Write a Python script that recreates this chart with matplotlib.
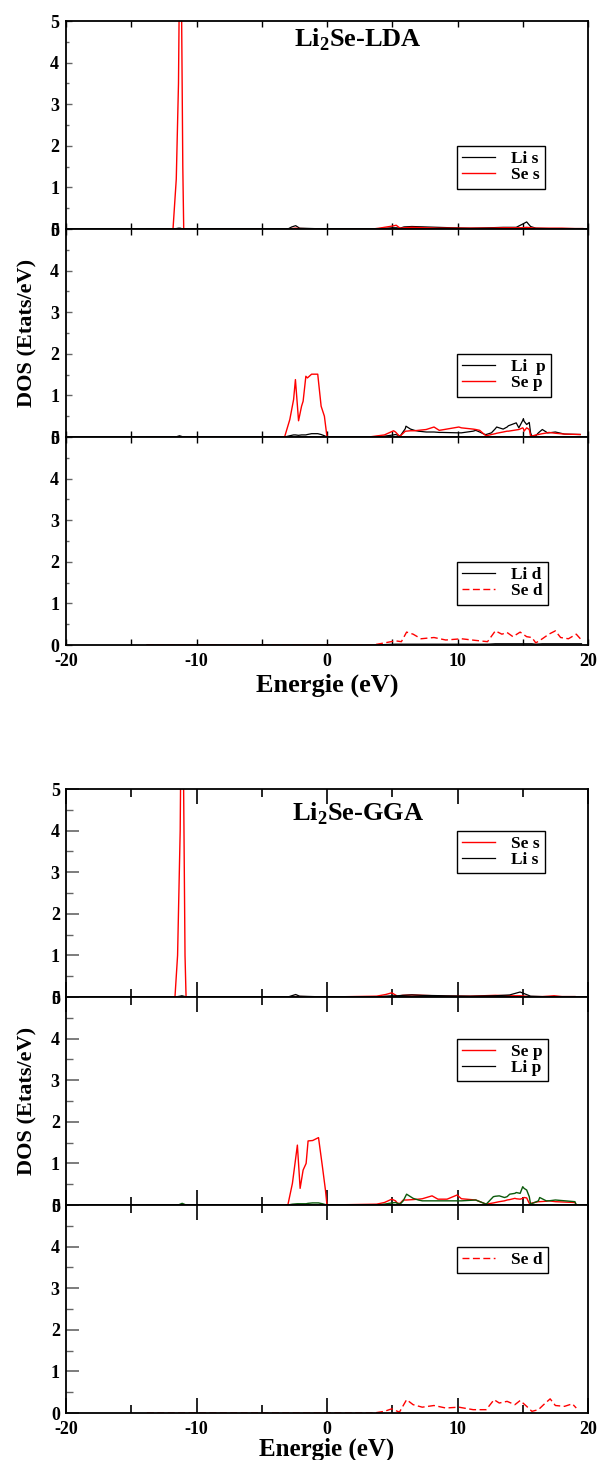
import matplotlib
matplotlib.use("Agg")
import matplotlib.pyplot as plt
from matplotlib.ticker import MultipleLocator

plt.rcParams['font.family'] = ['Liberation Serif', 'DejaVu Serif']
plt.rcParams['font.weight'] = 'bold'
plt.rcParams['mathtext.fontset'] = 'custom'
plt.rcParams['mathtext.rm'] = 'Liberation Serif:bold'

# ---------------- LDA ----------------
lda_s_e = [-13.8, -12.0, -11.8, -11.55, -11.38, -11.25, -11.15, -11.05, -10.98, -10.5, -3.0, -2.7, -2.4, -2.1,
           0.0, 3.5, 4.0, 4.6, 5.0, 5.3, 5.6, 5.9, 6.5, 7.5, 8.5, 9.5, 11.0, 12.5, 13.5, 14.5, 15.0, 15.3,
           15.6, 16.0, 17.0, 18.0, 19.0, 19.6]
lda_li_s = [0.0, 0.0, 0.0, 0.01, 0.02, 0.02, 0.01, 0.0, 0.0, 0.0, 0.0, 0.05, 0.08, 0.02,
            0.0, 0.0, 0.01, 0.02, 0.03, 0.03, 0.02, 0.05, 0.06, 0.05, 0.04, 0.03, 0.02, 0.03, 0.04, 0.04, 0.12, 0.17,
            0.06, 0.02, 0.01, 0.01, 0.01, 0.01]
lda_se_s = [0.0, 0.0, 0.0, 1.2, 3.5, 8.0, 5.5, 1.5, 0.0, 0.0, 0.0, 0.01, 0.02, 0.01,
            0.0, 0.0, 0.02, 0.05, 0.07, 0.09, 0.02, 0.03, 0.04, 0.03, 0.02, 0.02, 0.02, 0.02, 0.03, 0.03, 0.03, 0.04,
            0.03, 0.02, 0.02, 0.02, 0.01, 0.01]

lda_p_e = [-13.8, -11.6, -11.3, -11.0, -3.25, -2.85, -2.56, -2.42, -2.18, -1.95, -1.83, -1.62, -1.5, -1.18,
           -0.71, -0.45, -0.2, 0.0, 3.2, 4.4, 5.1, 5.25, 5.55, 5.6, 6.0, 6.05, 6.4, 6.7, 7.0, 7.6, 8.2, 8.6,
           8.8, 10.1, 10.3, 11.2, 11.4, 11.7, 12.1, 12.2, 12.6, 12.9, 13.0, 13.5, 13.8, 13.9, 14.5, 14.7, 15.0,
           15.05, 15.1, 15.3, 15.5, 15.6, 15.7, 16.0, 16.2, 16.5, 16.9, 17.0, 17.5, 18.2, 19.4]
lda_li_p = [0.0, 0.0, 0.03, 0.0, 0.0, 0.03, 0.05, 0.05, 0.04, 0.05, 0.05, 0.05, 0.06, 0.08,
            0.08, 0.06, 0.03, 0.0, 0.0, 0.02, 0.05, 0.06, 0.03, 0.02, 0.2, 0.26, 0.19, 0.16, 0.14, 0.12, 0.12, 0.11,
            0.11, 0.1, 0.1, 0.14, 0.16, 0.12, 0.06, 0.06, 0.1, 0.2, 0.24, 0.19, 0.24, 0.27, 0.34, 0.22, 0.4,
            0.44, 0.38, 0.3, 0.35, 0.1, 0.02, 0.03, 0.1, 0.18, 0.1, 0.1, 0.12, 0.07, 0.06]
lda_se_p = [0.0, 0.0, 0.0, 0.0, 0.0, 0.42, 0.9, 1.38, 0.39, 0.74, 0.86, 1.46, 1.42, 1.51,
            1.51, 0.74, 0.5, 0.0, 0.0, 0.05, 0.15, 0.12, 0.02, 0.02, 0.14, 0.14, 0.15, 0.15, 0.16, 0.18, 0.24, 0.16,
            0.17, 0.24, 0.22, 0.19, 0.18, 0.16, 0.05, 0.03, 0.06, 0.08, 0.09, 0.12, 0.14, 0.14, 0.17, 0.18, 0.22,
            0.2, 0.14, 0.22, 0.18, 0.02, 0.02, 0.05, 0.06, 0.08, 0.1, 0.11, 0.09, 0.07, 0.06]

lda_d_e = [-13.8, 3.5, 4.4, 5.25, 5.7, 6.1, 6.6, 7.2, 8.2, 9.1, 10.3, 11.4, 12.3, 12.9, 13.4, 13.8, 14.25,
           14.8, 15.3, 15.7, 16.0, 16.5, 17.0, 17.5, 17.9, 18.5, 19.1, 19.5]
lda_li_d = [0.0, 0.0, 0.01, 0.02, 0.02, 0.02, 0.02, 0.02, 0.02, 0.02, 0.02, 0.02, 0.02, 0.03, 0.03, 0.03, 0.03,
            0.03, 0.03, 0.03, 0.02, 0.03, 0.03, 0.03, 0.03, 0.03, 0.03, 0.03]
lda_se_d = [0.0, 0.0, 0.05, 0.1, 0.08, 0.31, 0.26, 0.15, 0.18, 0.12, 0.15, 0.11, 0.08, 0.34, 0.26, 0.3, 0.2,
            0.31, 0.2, 0.18, 0.05, 0.15, 0.26, 0.34, 0.18, 0.15, 0.26, 0.12]

# ---------------- GGA ----------------
gga_s_e = [-13.8, -12.0, -11.65, -11.45, -11.25, -11.12, -11.0, -10.88, -10.8, -10.5, -3.0, -2.7, -2.4, -2.1,
           0.0, 3.8, 4.5, 4.96, 5.4, 5.8, 6.5, 7.3, 9.0, 11.0, 12.9, 14.0, 14.8, 15.2, 15.6, 16.5, 17.0, 17.4,
           18.0, 19.0]
gga_se_s = [0.0, 0.0, 0.0, 1.0, 4.0, 9.0, 5.5, 1.0, 0.0, 0.0, 0.0, 0.01, 0.01, 0.01,
            0.0, 0.02, 0.06, 0.1, 0.02, 0.04, 0.05, 0.04, 0.02, 0.02, 0.04, 0.03, 0.03, 0.02, 0.01, 0.01, 0.02, 0.03,
            0.01, 0.01]
gga_li_s = [0.0, 0.0, 0.0, 0.01, 0.02, 0.03, 0.02, 0.01, 0.0, 0.0, 0.0, 0.03, 0.06, 0.02,
            0.0, 0.0, 0.02, 0.03, 0.03, 0.04, 0.05, 0.04, 0.03, 0.02, 0.03, 0.05, 0.12, 0.07, 0.02, 0.01, 0.01, 0.01,
            0.01, 0.01]

gga_p_e = [-13.8, -11.4, -11.1, -10.8, -3.0, -2.65, -2.27, -2.06, -1.83, -1.6, -1.45, -1.1, -0.65, -0.35,
           -0.12, 0.0, 3.8, 4.4, 4.96, 5.25, 5.4, 5.6, 5.84, 6.1, 6.6, 7.0, 7.3, 8.05, 8.5, 9.2, 9.97, 10.3, 11.4,
           12.2, 12.75, 12.9, 13.2, 13.6, 13.8, 14.0, 14.4, 14.5, 14.8, 15.0, 15.1, 15.3, 15.5, 15.6, 16.2, 16.3,
           16.8, 17.0, 17.5, 19.0, 19.1]
gga_se_p = [0.0, 0.0, 0.0, 0.0, 0.0, 0.52, 1.44, 0.4, 0.84, 1.0, 1.54, 1.55, 1.62, 0.92,
            0.36, 0.0, 0.02, 0.06, 0.14, 0.1, 0.04, 0.04, 0.12, 0.12, 0.13, 0.14, 0.15, 0.22, 0.14, 0.14, 0.24, 0.15,
            0.12, 0.02, 0.05, 0.06, 0.08, 0.1, 0.12, 0.13, 0.16, 0.15, 0.14, 0.16, 0.18, 0.17, 0.04, 0.04, 0.08,
            0.08, 0.09, 0.1, 0.08, 0.06, 0.0]
gga_li_p = [0.0, 0.0, 0.04, 0.0, 0.0, 0.02, 0.03, 0.03, 0.03, 0.03, 0.04, 0.05, 0.05, 0.03,
            0.01, 0.0, 0.0, 0.02, 0.05, 0.06, 0.04, 0.02, 0.1, 0.26, 0.16, 0.12, 0.1, 0.1, 0.1, 0.1, 0.1, 0.1, 0.12,
            0.02, 0.2, 0.21, 0.22, 0.18, 0.2, 0.26, 0.28, 0.3, 0.28, 0.44, 0.4, 0.36, 0.2, 0.02, 0.1, 0.18,
            0.1, 0.1, 0.12, 0.08, 0.0]

gga_d_e = [-13.8, 3.6, 4.4, 4.96, 5.55, 6.1, 6.6, 7.3, 8.2, 9.1, 10.1, 11.2, 12.2, 12.8, 13.2, 13.8, 14.4,
           14.8, 15.3, 15.7, 16.2, 16.6, 17.1, 17.5, 18.2, 18.8, 19.1]
gga_se_d = [0.0, 0.0, 0.04, 0.1, 0.02, 0.32, 0.2, 0.14, 0.18, 0.12, 0.14, 0.08, 0.08, 0.32, 0.24, 0.28, 0.2,
            0.3, 0.16, 0.04, 0.08, 0.2, 0.34, 0.18, 0.16, 0.22, 0.12]

FIG_W, FIG_H = 602, 1460
AX_L, AX_R = 66, 588
PANEL_H = 208
RED = '#ff0000'
GREEN = '#0b5a0b'


def add_panel(fig, top):
    ax = fig.add_axes([AX_L / FIG_W, 1 - (top + PANEL_H) / FIG_H,
                       (AX_R - AX_L) / FIG_W, PANEL_H / FIG_H])
    ax.set_xlim(-20, 20)
    ax.set_ylim(0, 5)
    ax.xaxis.set_major_locator(MultipleLocator(10))
    ax.xaxis.set_minor_locator(MultipleLocator(5))
    ax.yaxis.set_major_locator(MultipleLocator(1))
    ax.yaxis.set_minor_locator(MultipleLocator(0.5))
    for s in ax.spines.values():
        s.set_linewidth(1.3)
    return ax


def style_ticks(ax, big, show_x):
    fs = 13
    if big:
        ax.tick_params(axis='x', which='major', direction='in', length=11, width=1.2,
                       top=True, bottom=True, labelsize=fs, pad=5.5)
        ax.tick_params(axis='x', which='minor', direction='in', length=6, width=1.2, top=True, bottom=True)
        ax.tick_params(axis='y', which='major', direction='in', length=9, width=1.2,
                       color='#666666', labelsize=fs, pad=4.5)
        ax.tick_params(axis='y', which='minor', direction='in', length=5, width=1.0, color='#666666')
    else:
        ax.tick_params(axis='x', which='major', direction='in', length=4, width=1.0,
                       top=True, bottom=True, labelsize=fs, pad=5.5)
        ax.tick_params(axis='x', which='minor', direction='in', length=4, width=1.0, top=True, bottom=True)
        ax.tick_params(axis='y', which='major', direction='in', length=4, width=1.0,
                       color='#666666', labelsize=fs, pad=5)
        ax.tick_params(axis='y', which='minor', direction='in', length=2, width=1.0, color='#666666')
    ax.set_yticks([0, 1, 2, 3, 4, 5])
    ax.set_yticklabels(['0', '1', '2', '3', '4', '5'], fontweight='bold')
    if show_x:
        ax.set_xticks([-20, -10, 0, 10, 20])
        ax.set_xticklabels(['-20', '-10', '0', '10', '20'], fontweight='bold')
    else:
        ax.tick_params(axis='x', labelbottom=False)


def add_legend(ax, top_frac, fs):
    leg = ax.legend(loc='upper left', bbox_to_anchor=(0.749, top_frac), fontsize=fs,
                    frameon=True, fancybox=False, edgecolor='black', framealpha=1,
                    handlelength=1.9, handletextpad=0.9, labelspacing=0.0,
                    borderpad=0.3, borderaxespad=0)
    leg.get_frame().set_linewidth(1.0)
    for t in leg.get_texts():
        t.set_fontweight('bold')
    return leg


fig = plt.figure(figsize=(FIG_W / 100, FIG_H / 100), dpi=100)

# ----- LDA block -----
tops = [21, 229, 437]
a1 = add_panel(fig, tops[0])
a1.plot(lda_s_e, lda_li_s, color='black', lw=0.9, label='Li s')
a1.plot(lda_s_e, lda_se_s, color=RED, lw=1.0, label='Se s')
a1.text(2.4, 4.55, 'Li$_{\\mathregular{2}}$Se-LDA', ha='center', va='center', fontsize=19, fontweight='bold')
style_ticks(a1, False, False)
add_legend(a1, 0.40, 12.5)

a2 = add_panel(fig, tops[1])
a2.plot(lda_p_e, lda_li_p, color='black', lw=0.9, label='Li  p')
a2.plot(lda_p_e, lda_se_p, color=RED, lw=1.0, label='Se p')
style_ticks(a2, False, False)
add_legend(a2, 0.40, 12.5)

a3 = add_panel(fig, tops[2])
a3.plot(lda_d_e, lda_li_d, color='black', lw=0.9, label='Li d')
a3.plot(lda_d_e, lda_se_d, color=RED, lw=1.0, ls=(0, (5, 2.5)), label='Se d')
style_ticks(a3, False, True)
add_legend(a3, 0.40, 12.5)

fig.text(27 / FIG_W, 1 - 333 / FIG_H, 'DOS (Etats/eV)', rotation=90, ha='center', va='center',
         fontsize=16, fontweight='bold')
fig.text(((AX_L + AX_R) / 2) / FIG_W, 1 - 685 / FIG_H, 'Energie (eV)', ha='center', va='center',
         fontsize=19, fontweight='bold')

# ----- GGA block -----
tops = [789, 997, 1205]
b1 = add_panel(fig, tops[0])
b1.plot(gga_s_e, gga_se_s, color=RED, lw=1.0, label='Se s')
b1.plot(gga_s_e, gga_li_s, color='black', lw=0.9, label='Li s')
b1.text(2.4, 4.4, 'Li$_{\\mathregular{2}}$Se-GGA', ha='center', va='center', fontsize=19, fontweight='bold')
style_ticks(b1, True, False)
add_legend(b1, 0.80, 12.5)

b2 = add_panel(fig, tops[1])
b2.plot(gga_p_e, gga_se_p, color=RED, lw=1.0, label='Se p')
b2.plot(gga_p_e, gga_li_p, color=GREEN, lw=1.0)
b2.plot([], [], color='black', lw=0.9, label='Li p')
style_ticks(b2, True, False)
add_legend(b2, 0.80, 12.5)

b3 = add_panel(fig, tops[2])
b3.plot(gga_d_e, gga_se_d, color=RED, lw=1.0, ls=(0, (5, 2.5)), label='Se d')
style_ticks(b3, True, True)
add_legend(b3, 0.80, 12.5)

fig.text(27 / FIG_W, 1 - 1101 / FIG_H, 'DOS (Etats/eV)', rotation=90, ha='center', va='center',
         fontsize=16, fontweight='bold')
fig.text(((AX_L + AX_R) / 2) / FIG_W, 1 - 1449 / FIG_H, 'Energie (eV)', ha='center', va='center',
         fontsize=18, fontweight='bold')

fig.savefig('out.png', dpi=100)
